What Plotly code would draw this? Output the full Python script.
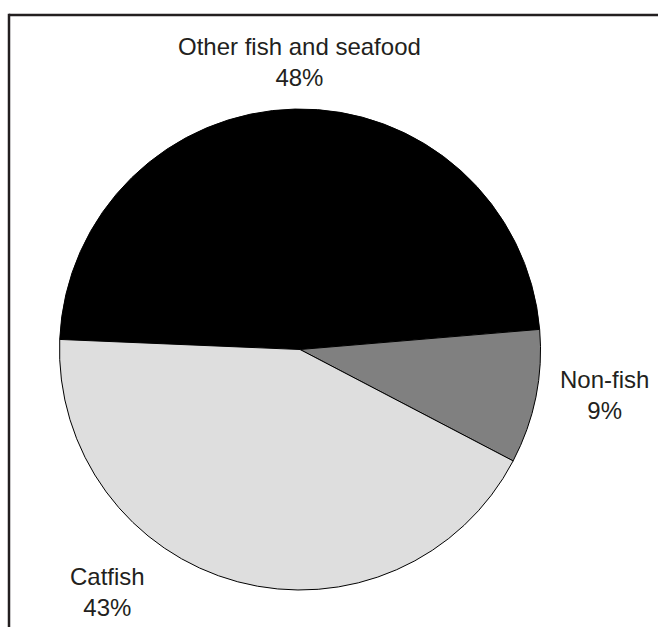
import plotly.graph_objects as go

W, H = 658, 627

# Data
categories = ["Other fish and seafood", "Non-fish", "Catfish"]
shares = [48, 9, 43]
slice_colors = ["#000000", "#808080", "#dedede"]

# Label placement (pixel centers of each label block)
label_pos = {
    "Other fish and seafood": (299, 62),
    "Non-fish": (604, 395),
    "Catfish": (107, 592),
}


def px(x):
    return x / W


def py(y):
    return 1 - y / H


fig = go.Figure(
    go.Pie(
        labels=categories,
        values=shares,
        sort=False,
        direction="clockwise",
        rotation=-87.6,
        marker=dict(colors=slice_colors, line=dict(color="#000000", width=1)),
        textinfo="none",
        hoverinfo="label+percent",
        showlegend=False,
        domain=dict(x=[px(59.5), px(540.5)], y=[py(590), py(109)]),
    )
)

annotations = []
for cat, val in zip(categories, shares):
    cx, cy = label_pos[cat]
    annotations.append(
        dict(
            x=px(cx), y=py(cy), xref="paper", yref="paper",
            text=f"{cat}<br>{val}%", showarrow=False,
            xanchor="center", yanchor="middle", align="center",
            font=dict(family="Liberation Sans, Arial, sans-serif", size=24, color="#231f20"),
        )
    )

frame_color = "#231f20"
shapes = [
    dict(type="line", xref="paper", yref="paper", x0=px(9), y0=py(15), x1=1.02, y1=py(15),
         line=dict(color=frame_color, width=2.5)),
    dict(type="line", xref="paper", yref="paper", x0=px(9), y0=py(15) + 0.002, x1=px(9), y1=-0.02,
         line=dict(color=frame_color, width=2.5)),
]

fig.update_layout(
    width=W, height=H,
    margin=dict(l=0, r=0, t=0, b=0),
    paper_bgcolor="white", plot_bgcolor="white",
    annotations=annotations,
    shapes=shapes,
)

fig.write_html("out.html")
